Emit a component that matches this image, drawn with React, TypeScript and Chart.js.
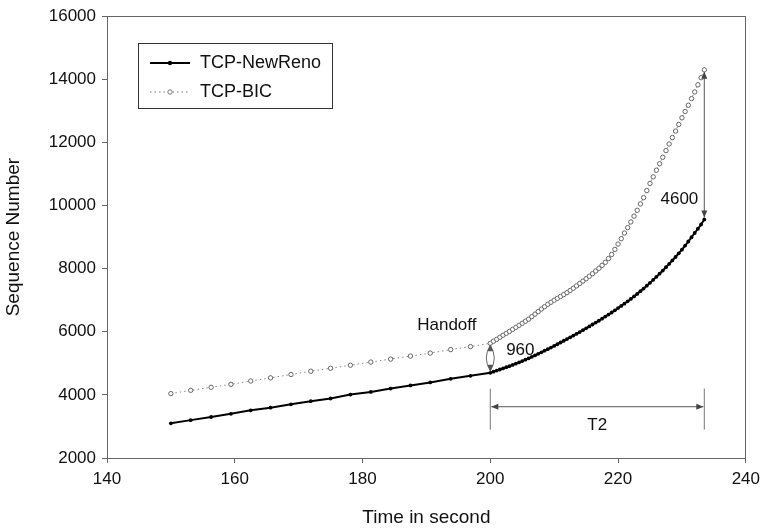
import React, { useEffect, useRef } from "react";
import { Chart, registerables } from "chart.js";

Chart.register(...registerables);

const times = [
  150, 153.1, 156.3, 159.4, 162.5, 165.6, 168.8, 171.9, 175, 178.1, 181.3, 184.4, 187.5, 190.6, 193.8, 196.9,
  200, 200.5, 201, 201.5, 202, 202.5, 203, 203.5, 204, 204.5, 205, 205.5, 206, 206.5, 207, 207.5, 208, 208.5, 209, 209.5,
  210, 210.5, 211, 211.5, 212, 212.5, 213, 213.5, 214, 214.5, 215, 215.5, 216, 216.5, 217, 217.5, 218, 218.5, 219, 219.5,
  220, 220.5, 221, 221.5, 222, 222.5, 223, 223.5, 224, 224.5, 225, 225.5, 226, 226.5, 227, 227.5, 228, 228.5, 229, 229.5,
  230, 230.5, 231, 231.5, 232, 232.5, 233, 233.5,
];
const newReno = [
  3100, 3200, 3300, 3400, 3510, 3595, 3700, 3800, 3885, 4010, 4095, 4200, 4300, 4395, 4510, 4605,
  4700, 4735, 4770, 4805, 4840, 4875, 4910, 4950, 4990, 5030, 5070, 5115, 5160, 5205, 5250, 5300, 5350, 5400, 5450, 5500,
  5550, 5605, 5660, 5715, 5770, 5825, 5880, 5935, 5990, 6050, 6110, 6170, 6230, 6290, 6350, 6415, 6480, 6545, 6610, 6680,
  6750, 6820, 6890, 6965, 7040, 7120, 7200, 7285, 7370, 7460, 7550, 7645, 7740, 7840, 7940, 8045, 8150, 8260, 8370, 8485,
  8600, 8730, 8860, 8995, 9130, 9265, 9400, 9560,
];
const bic = [
  4040, 4145, 4240, 4335, 4440, 4540, 4645, 4750, 4845, 4940, 5040, 5135, 5230, 5325, 5435, 5530,
  5635, 5700, 5760, 5825, 5890, 5950, 6010, 6075, 6140, 6205, 6270, 6335, 6400, 6480, 6560, 6640, 6720, 6795, 6870, 6935,
  7000, 7060, 7120, 7180, 7240, 7310, 7380, 7455, 7530, 7605, 7680, 7760, 7840, 7925, 8010, 8105, 8200, 8320, 8450, 8610,
  8780, 8950, 9130, 9300, 9480, 9665, 9850, 10050, 10250, 10475, 10700, 10910, 11120, 11325, 11530, 11740, 11950, 12155, 12360, 12570,
  12780, 12980, 13180, 13390, 13600, 13825, 14050, 14300,
];
const seriesLabels = ["TCP-NewReno", "TCP-BIC"];
const xTicks = [140, 160, 180, 200, 220, 240];
const yTicks = [2000, 4000, 6000, 8000, 10000, 12000, 14000, 16000];

const handoffTime = 200;
const endTime = 233.5;
const gapLabel = "960";
const endGapLabel = "4600";

const FONT = "'Liberation Sans', Arial, sans-serif";

function arrowHead(ctx: CanvasRenderingContext2D, x: number, y: number, dx: number, dy: number) {
  const len = Math.hypot(dx, dy) || 1;
  const ux = dx / len, uy = dy / len;
  const L = 7, W = 3;
  ctx.beginPath();
  ctx.moveTo(x, y);
  ctx.lineTo(x - ux * L - uy * W, y - uy * L + ux * W);
  ctx.lineTo(x - ux * L + uy * W, y - uy * L - ux * W);
  ctx.closePath();
  ctx.fill();
}

function doubleArrow(ctx: CanvasRenderingContext2D, x1: number, y1: number, x2: number, y2: number) {
  ctx.beginPath();
  ctx.moveTo(x1, y1);
  ctx.lineTo(x2, y2);
  ctx.stroke();
  arrowHead(ctx, x2, y2, x2 - x1, y2 - y1);
  arrowHead(ctx, x1, y1, x1 - x2, y1 - y2);
}

const annotationPlugin = {
  id: "annotations",
  afterDraw(chart: any) {
    const ctx: CanvasRenderingContext2D = chart.ctx;
    const xs = chart.scales.x, ys = chart.scales.y;
    const area = chart.chartArea;
    ctx.save();
    // frame
    ctx.strokeStyle = "#666";
    ctx.lineWidth = 1;
    ctx.strokeRect(Math.round(area.left) + 0.5, Math.round(area.top) + 0.5, Math.round(area.right - area.left) - 1, Math.round(area.bottom - area.top));

    const hi = times.indexOf(handoffTime);
    const ei = times.length - 1;
    const hx = xs.getPixelForValue(handoffTime);
    const ex = xs.getPixelForValue(endTime);

    // handoff lens arrow
    ctx.strokeStyle = "#666";
    ctx.fillStyle = "#555";
    const yTop = ys.getPixelForValue(bic[hi]);
    const yBot = ys.getPixelForValue(newReno[hi]);
    ctx.beginPath();
    ctx.moveTo(hx, yTop + 2);
    ctx.quadraticCurveTo(hx - 8, (yTop + yBot) / 2, hx, yBot - 2);
    ctx.quadraticCurveTo(hx + 8, (yTop + yBot) / 2, hx, yTop + 2);
    ctx.stroke();
    arrowHead(ctx, hx, yTop + 1, 0, -1);
    arrowHead(ctx, hx, yBot - 1, 0, 1);

    ctx.fillStyle = "#111";
    ctx.font = `17px ${FONT}`;
    ctx.textAlign = "center";
    ctx.textBaseline = "middle";
    ctx.fillText("Handoff", xs.getPixelForValue(193.2), ys.getPixelForValue(6190));
    ctx.fillText(gapLabel, xs.getPixelForValue(204.7), ys.getPixelForValue(5416));

    // T2 span
    ctx.strokeStyle = "#777";
    ctx.fillStyle = "#444";
    const vTop = ys.getPixelForValue(4200), vBot = ys.getPixelForValue(2900);
    ctx.beginPath();
    ctx.moveTo(hx, vTop); ctx.lineTo(hx, vBot);
    ctx.moveTo(ex, vTop); ctx.lineTo(ex, vBot);
    ctx.stroke();
    const ay = ys.getPixelForValue(3625);
    ctx.strokeStyle = "#555";
    doubleArrow(ctx, hx + 1, ay, ex - 1, ay);
    ctx.fillStyle = "#111";
    ctx.fillText("T2", (hx + ex) / 2, ys.getPixelForValue(3050));

    // 4600 arrow
    ctx.strokeStyle = "#555";
    ctx.fillStyle = "#444";
    doubleArrow(ctx, ex, ys.getPixelForValue(bic[ei]) + 2, ex, ys.getPixelForValue(newReno[ei]) - 2);
    ctx.fillStyle = "#111";
    ctx.textAlign = "right";
    ctx.fillText(endGapLabel, ex - 6, ys.getPixelForValue(10190));

    // legend box
    const bx = 138, by = 43, bw = 194, bh = 65;
    ctx.strokeStyle = "#333";
    ctx.lineWidth = 1;
    ctx.strokeRect(bx + 0.5, by + 0.5, bw, bh);
    ctx.font = `18px ${FONT}`;
    ctx.textAlign = "left";
    const rows = [by + 20, by + 49];
    ctx.strokeStyle = "#000";
    ctx.lineWidth = 2;
    ctx.beginPath();
    ctx.moveTo(bx + 12, rows[0]); ctx.lineTo(bx + 52, rows[0]);
    ctx.stroke();
    ctx.fillStyle = "#000";
    ctx.beginPath(); ctx.arc(bx + 32, rows[0], 2.2, 0, Math.PI * 2); ctx.fill();
    ctx.strokeStyle = "#777";
    ctx.lineWidth = 1;
    ctx.setLineDash([1.5, 3]);
    ctx.beginPath();
    ctx.moveTo(bx + 12, rows[1]); ctx.lineTo(bx + 52, rows[1]);
    ctx.stroke();
    ctx.setLineDash([]);
    ctx.fillStyle = "#fff";
    ctx.beginPath(); ctx.arc(bx + 32, rows[1], 2.2, 0, Math.PI * 2); ctx.fill(); ctx.stroke();
    ctx.fillStyle = "#111";
    ctx.fillText(seriesLabels[0], bx + 62, rows[0]);
    ctx.fillText(seriesLabels[1], bx + 62, rows[1]);
    ctx.restore();
  },
};

export default function App() {
  const ref = useRef<HTMLCanvasElement>(null);
  useEffect(() => {
    if (!ref.current) return;
    const chart = new Chart(ref.current, {
      type: "line",
      data: {
        datasets: [
          {
            label: seriesLabels[0],
            data: times.map((t, i) => ({ x: t, y: newReno[i] })),
            borderColor: "#000",
            borderWidth: 2,
            pointRadius: 1.9,
            pointBackgroundColor: "#000",
            pointBorderColor: "#000",
            pointBorderWidth: 0,
            tension: 0,
          },
          {
            label: seriesLabels[1],
            data: times.map((t, i) => ({ x: t, y: bic[i] })),
            borderColor: "#888",
            borderWidth: 1,
            borderDash: [1.5, 3],
            pointRadius: 2.2,
            pointBackgroundColor: "#fff",
            pointBorderColor: "#666",
            pointBorderWidth: 1,
            tension: 0,
          },
        ],
      },
      options: {
        animation: false,
        responsive: true,
        maintainAspectRatio: false,
        layout: { padding: { top: 13, right: 18, bottom: 0, left: 0 } },
        plugins: { legend: { display: false }, tooltip: { enabled: false } },
        scales: {
          x: {
            type: "linear",
            min: 140,
            max: 240,
            afterBuildTicks: (s: any) => { s.ticks = xTicks.map((v) => ({ value: v })); },
            afterFit: (s: any) => { s.height = 73; },
            grid: { drawOnChartArea: false, drawTicks: true, tickLength: 5, color: "#666" },
            border: { display: true, color: "#666" },
            ticks: { color: "#111", font: { family: FONT, size: 17 }, padding: 6, maxRotation: 0, callback: (v: any) => String(v) },
            title: { display: true, text: "Time in second", color: "#111", font: { family: FONT, size: 19 }, padding: { top: 0, bottom: 2 } },
          },
          y: {
            type: "linear",
            min: 2000,
            max: 16000,
            afterBuildTicks: (s: any) => { s.ticks = yTicks.map((v) => ({ value: v })); },
            afterFit: (s: any) => { s.width = 107; },
            grid: { drawOnChartArea: false, drawTicks: true, tickLength: 5, color: "#666" },
            border: { display: true, color: "#666" },
            ticks: { color: "#111", font: { family: FONT, size: 17 }, padding: 6, callback: (v: any) => String(v) },
            title: { display: true, text: "Sequence Number", color: "#111", font: { family: FONT, size: 19 }, padding: { top: 2, bottom: 0 } },
          },
        },
      },
      plugins: [annotationPlugin],
    });
    return () => chart.destroy();
  }, []);
  return (
    <div style={{ position: "fixed", left: 0, top: 0, width: 766, height: 531, background: "#fff" }}>
      <canvas ref={ref} />
    </div>
  );
}
